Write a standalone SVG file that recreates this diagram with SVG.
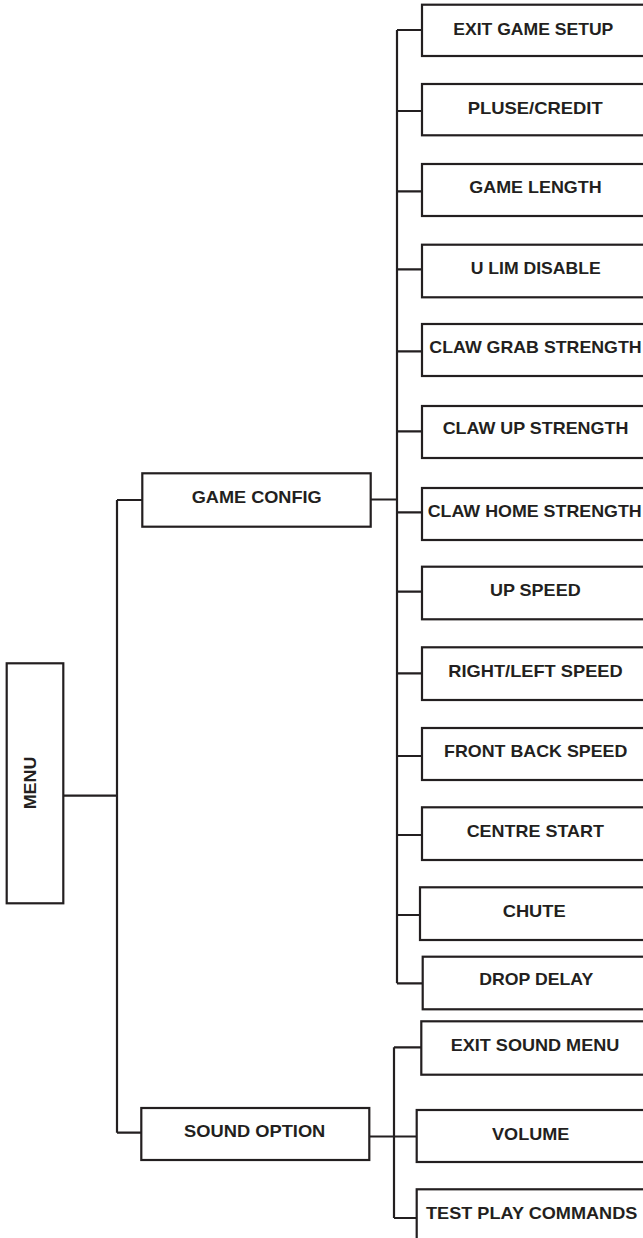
<svg xmlns="http://www.w3.org/2000/svg" width="643" height="1238" viewBox="0 0 643 1238">
<style>
.box{fill:#fff;stroke:#231f20;stroke-width:2.2}
.lbl{font-family:"Liberation Sans",Arial,sans-serif;font-weight:bold;font-size:17px;fill:#231f20;text-anchor:middle}
.conn{fill:none;stroke:#231f20;stroke-width:2.2}
</style>
<rect width="643" height="1238" fill="#fff"/>
<g id="connectors" class="conn">
<path d="M63.3,795.7H117M117,500V1132.7M117,500H142.3M117,1132.7H141.3"/>
<path d="M370.7,499.5H397M397,30V983.3"/>
<path d="M397,30H422M397,111H422M397,191.3H422M397,269.3H422M397,351.3H422M397,431.3H422M397,512.3H422M397,591.7H422M397,673.3H422M397,756H422M397,835H422M397,915H420M397,983.3H422.7"/>
<path d="M369.3,1136.5H416.7M394,1047.3V1218M394,1047.3H421.3M394,1218H416.7"/>
</g>
<g id="menu"><rect class="box" x="6.7" y="663.3" width="56.6" height="240"/><text class="lbl" transform="translate(36,783) rotate(-90)" textLength="52.7" lengthAdjust="spacingAndGlyphs">MENU</text></g>
<g id="game-config"><rect class="box" x="142.3" y="473.3" width="228.4" height="53.4"/><text class="lbl" x="256.7" y="503.3" textLength="130" lengthAdjust="spacingAndGlyphs">GAME CONFIG</text></g>
<g id="sound-option"><rect class="box" x="141.3" y="1108" width="228" height="52"/><text class="lbl" x="254.7" y="1137.3" textLength="141.3" lengthAdjust="spacingAndGlyphs">SOUND OPTION</text></g>
<g id="exit-game-setup"><rect class="box" x="422" y="4.7" width="230" height="51.3"/><text class="lbl" x="533.3" y="34.5" textLength="160" lengthAdjust="spacingAndGlyphs">EXIT GAME SETUP</text></g>
<g id="pluse-credit"><rect class="box" x="422" y="84" width="230" height="51.3"/><text class="lbl" x="535.2" y="113.5" textLength="135" lengthAdjust="spacingAndGlyphs">PLUSE/CREDIT</text></g>
<g id="game-length"><rect class="box" x="422" y="164" width="230" height="52"/><text class="lbl" x="535.5" y="193.3" textLength="132.3" lengthAdjust="spacingAndGlyphs">GAME LENGTH</text></g>
<g id="u-lim-disable"><rect class="box" x="422" y="244.7" width="230" height="52.6"/><text class="lbl" x="535.7" y="274" textLength="130" lengthAdjust="spacingAndGlyphs">U LIM DISABLE</text></g>
<g id="claw-grab-strength"><rect class="box" x="422" y="324" width="230" height="52"/><text class="lbl" x="535.5" y="352.5" textLength="212.3" lengthAdjust="spacingAndGlyphs">CLAW GRAB STRENGTH</text></g>
<g id="claw-up-strength"><rect class="box" x="422" y="406" width="230" height="52"/><text class="lbl" x="535.5" y="434.3" textLength="185.7" lengthAdjust="spacingAndGlyphs">CLAW UP STRENGTH</text></g>
<g id="claw-home-strength"><rect class="box" x="422" y="488" width="230" height="52"/><text class="lbl" x="534.7" y="516.7" textLength="214" lengthAdjust="spacingAndGlyphs">CLAW HOME STRENGTH</text></g>
<g id="up-speed"><rect class="box" x="422" y="566.7" width="230" height="52.6"/><text class="lbl" x="535.3" y="596" textLength="90.7" lengthAdjust="spacingAndGlyphs">UP SPEED</text></g>
<g id="right-left-speed"><rect class="box" x="422" y="647.3" width="230" height="52.7"/><text class="lbl" x="535.5" y="677.3" textLength="174.3" lengthAdjust="spacingAndGlyphs">RIGHT/LEFT SPEED</text></g>
<g id="front-back-speed"><rect class="box" x="422" y="728" width="230" height="52"/><text class="lbl" x="535.7" y="756.7" textLength="183.3" lengthAdjust="spacingAndGlyphs">FRONT BACK SPEED</text></g>
<g id="centre-start"><rect class="box" x="422" y="807.3" width="230" height="52.7"/><text class="lbl" x="535.3" y="836.7" textLength="137.3" lengthAdjust="spacingAndGlyphs">CENTRE START</text></g>
<g id="chute"><rect class="box" x="420" y="887.3" width="232" height="52.7"/><text class="lbl" x="534.2" y="917.3" textLength="63" lengthAdjust="spacingAndGlyphs">CHUTE</text></g>
<g id="drop-delay"><rect class="box" x="422.7" y="956.7" width="230" height="52.6"/><text class="lbl" x="536.3" y="985" textLength="114" lengthAdjust="spacingAndGlyphs">DROP DELAY</text></g>
<g id="exit-sound-menu"><rect class="box" x="421.3" y="1021.3" width="230" height="53.4"/><text class="lbl" x="535" y="1050.7" textLength="168.7" lengthAdjust="spacingAndGlyphs">EXIT SOUND MENU</text></g>
<g id="volume"><rect class="box" x="416.7" y="1110" width="236" height="52"/><text class="lbl" x="530.7" y="1140" textLength="77.3" lengthAdjust="spacingAndGlyphs">VOLUME</text></g>
<g id="test-play-commands"><rect class="box" x="416.7" y="1189.3" width="236" height="60"/><text class="lbl" x="531.7" y="1219.3" textLength="211.3" lengthAdjust="spacingAndGlyphs">TEST PLAY COMMANDS</text></g>
</svg>
